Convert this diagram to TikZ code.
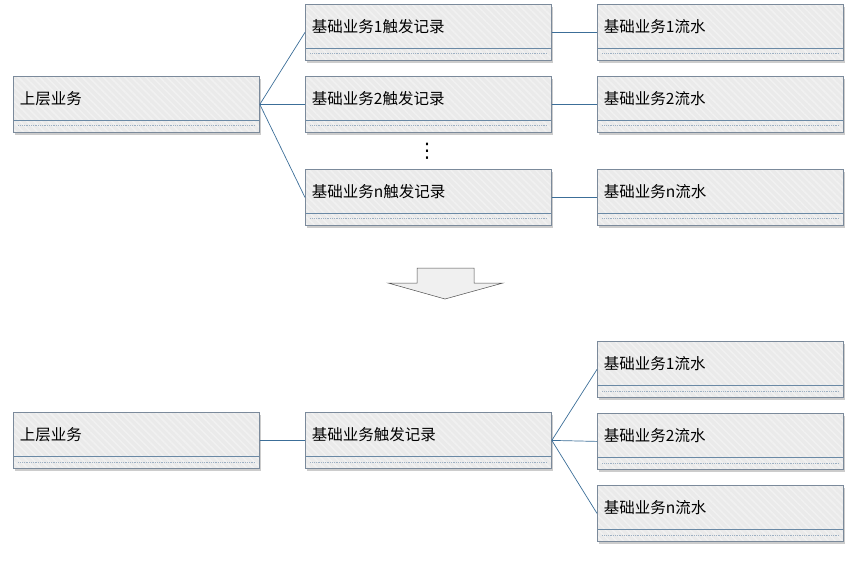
\documentclass[tikz,border=0pt]{standalone}
\usepackage{fontspec}
\setmainfont{Noto Sans CJK SC}
\newfontfamily\symfont{DejaVu Sans}
\usetikzlibrary{shadows,patterns.meta}
\definecolor{boxfill}{HTML}{EAEAEA}
\definecolor{boxedge}{HTML}{7B8A9B}
\definecolor{sepcol}{HTML}{6A89A5}
\definecolor{dotcol}{HTML}{9DB0C3}
\definecolor{linkcol}{HTML}{3C6E98}
\tikzset{
  recbox/.style={anchor=north west, minimum width=246pt, minimum height=56pt,
    drop shadow={shadow xshift=2pt, shadow yshift=-3pt, opacity=0.4},
    preaction={fill=boxfill}, pattern={Lines[angle=-45,distance=5pt,line width=1.5pt]},
    pattern color=white!35!boxfill, draw=boxedge, line width=0.8pt,
    text width=233pt, align=left, inner xsep=6pt, text height=6pt, text depth=6pt,
    font=\fontsize{15.5}{18}\selectfont,
    path picture={
      \draw[sepcol, line width=0.7pt] ([yshift=12pt]path picture bounding box.south west) -- ([yshift=12pt]path picture bounding box.south east);
      \draw[dotcol, line width=0.8pt, densely dotted] ([xshift=5pt,yshift=6.5pt]path picture bounding box.south west) -- ([xshift=-5pt,yshift=6.5pt]path picture bounding box.south east);
    }},
  link/.style={draw=linkcol, line width=0.7pt}
}
\begin{document}
\begin{tikzpicture}[x=1pt,y=-1pt]
	\useasboundingbox (0,0) rectangle (856,561);
	% before
	\node[recbox] (upA) at (13,76) {上层业务};
	\node[recbox] (trgA) at (305,4) {基础业务1触发记录};
	\node[recbox] (trgB) at (305,76) {基础业务2触发记录};
	\node[recbox] (trgN) at (305,169) {基础业务n触发记录};
	\node[recbox] (flowA) at (597,4) {基础业务1流水};
	\node[recbox] (flowB) at (597,76) {基础业务2流水};
	\node[recbox] (flowN) at (597,169) {基础业务n流水};
	\node[font=\symfont\fontsize{20}{20}\selectfont, inner sep=0pt] (dots) at (427,151) {⋮};
	\draw[link] (upA.east) -- (trgA.west);
	\draw[link] (upA.east) -- (trgB.west);
	\draw[link] (upA.east) -- (trgN.west);
	\draw[link] (trgA.east) -- (flowA.west);
	\draw[link] (trgB.east) -- (flowB.west);
	\draw[link] (trgN.east) -- (flowN.west);
	% arrow
	\filldraw[fill=black!6, draw=black!70, line width=0.5pt] (417,268) -- (474,268) -- (474,283) -- (503,283) -- (445,299) -- (388,283) -- (417,283) -- cycle;
	% after
	\node[recbox] (upB) at (13,412) {上层业务};
	\node[recbox] (trg) at (305,412) {基础业务触发记录};
	\node[recbox] (sflowA) at (597,341) {基础业务1流水};
	\node[recbox] (sflowB) at (597,413) {基础业务2流水};
	\node[recbox] (sflowN) at (597,485) {基础业务n流水};
	\draw[link] (upB.east) -- (trg.west);
	\draw[link] (trg.east) -- (sflowA.west);
	\draw[link] (trg.east) -- (sflowB.west);
	\draw[link] (trg.east) -- (sflowN.west);
\end{tikzpicture}
\end{document}
